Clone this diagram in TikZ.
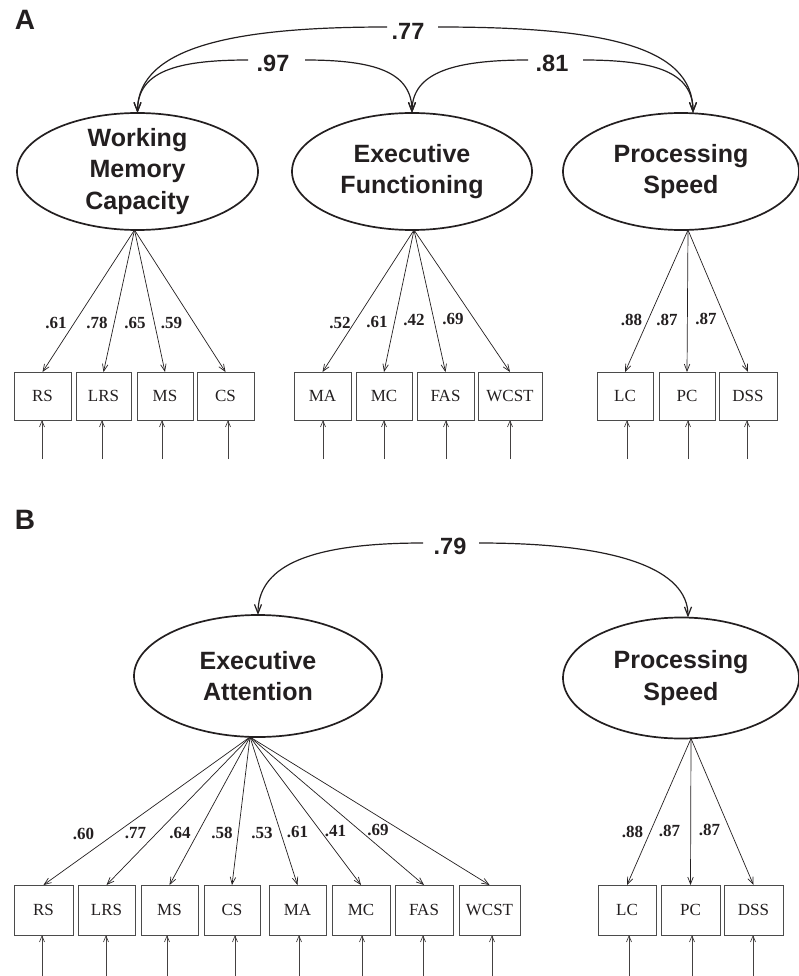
\documentclass[tikz,border=0pt]{standalone}
\usepackage{fontspec}
\setmainfont{Liberation Serif}
\newfontfamily\hel{Liberation Sans}
\usetikzlibrary{shapes.geometric,arrows.meta,calc}
\definecolor{ink}{RGB}{35,31,32}
\definecolor{boxc}{RGB}{75,75,75}
\begin{document}
\begin{tikzpicture}[x=1pt,y=-1pt,
  latent/.style={ellipse, draw=ink, line width=1.7pt, inner sep=-6pt, outer sep=0pt,
    align=center, text=ink, font=\hel\bfseries\fontsize{25}{31.5}\selectfont},
  obs/.style={rectangle, draw=boxc, line width=0.8pt, minimum height=48pt, inner sep=0pt,
    outer sep=0pt, text=ink, font=\fontsize{17}{19}\selectfont},
  loadlbl/.style={inner sep=0pt, text=ink, font=\bfseries\fontsize{17}{19}\selectfont},
  corrlbl/.style={inner sep=0pt, text=ink, font=\hel\bfseries\fontsize{23.5}{26}\selectfont},
  panel/.style={inner sep=0pt, text=ink, font=\hel\bfseries\fontsize{28}{30}\selectfont},
  arr/.style={draw=ink, line width=0.7pt, -{Straight Barb[length=7pt,width=5.5pt]}},
  errarr/.style={draw=ink!85, line width=0.7pt, -{Straight Barb[length=6pt,width=5pt]}},
  carr/.style={draw=ink, line width=1.2pt, -{Straight Barb[length=9pt,width=7pt]}}
]
\useasboundingbox (0,0) rectangle (799,976);
\clip (0,0) rectangle (799,976);

% ================= Panel A =================
\node[panel] (labA) at (25,20) {A};

\node[latent, minimum width=241pt, minimum height=117pt] (WMC) at (137.5,171.5) {Working\\Memory\\Capacity};
\node[latent, minimum width=240pt, minimum height=117pt] (EF) at (412,171.5) {Executive\\Functioning};
\node[latent, minimum width=236pt, minimum height=117pt] (PSA) at (681,171.5) {Processing\\Speed};

% correlation labels
\node[corrlbl] (l77) at (408,31) {.77};
\node[corrlbl] (l97) at (273,63) {.97};
\node[corrlbl] (l81) at (552,63) {.81};
\coordinate (l77L) at (387,27);
\coordinate (l77R) at (438,27);
\coordinate (l97L) at (248,60);
\coordinate (l97R) at (305,60);
\coordinate (l81L) at (528,60);
\coordinate (l81R) at (583,60);
\coordinate (tPSA) at ($(PSA.north)+(12,0)$);

\draw[carr] (l77L) .. controls (240,27) and (137.5,45) .. (WMC.north);
\draw[carr] (l77R) .. controls (600,27) and (693,45) .. (tPSA);
\draw[carr] (l97L) .. controls (175,60) and (137.5,72) .. (WMC.north);
\draw[carr] (l97R) .. controls (375,60) and (412,72) .. (EF.north);
\draw[carr] (l81L) .. controls (455,60) and (412,72) .. (EF.north);
\draw[carr] (l81R) .. controls (655,60) and (693,72) .. (tPSA);

% observed boxes
\foreach \n/\x/\w in {RS/42.5/57pt, LRS/103.5/55pt, MS/165/56pt, CS/225.5/57pt,
                      MA/322.5/57pt, MC/384/56pt, FAS/445.5/57pt, WCST/510/64pt,
                      LC/625/56pt, PC/687/56pt, DSS/748/58pt}{
  \node[obs, minimum width=\w] (a\n) at (\x,396) {\n};
}
% error arrows
\foreach \n/\x in {RS/42, LRS/102, MS/162, CS/228, MA/323, MC/384, FAS/446, WCST/510,
                   LC/627, PC/688, DSS/747}{
  \coordinate (ea\n) at (\x,459);
  \draw[errarr] (ea\n) -- (ea\n |- a\n.south);
}
% loadings
\coordinate (oWMC) at ($(WMC.south)+(-3,0)$);
\coordinate (oEF) at ($(EF.south)+(2,0)$);
\coordinate (oPSA) at ($(PSA.south)+(7,0)$);
\foreach \n in {RS,LRS,MS,CS} \draw[arr] (oWMC) -- (a\n.north);
\foreach \n in {MA,MC,FAS,WCST} \draw[arr] (oEF) -- (a\n.north);
\foreach \n in {LC,PC,DSS} \draw[arr] (oPSA) -- (a\n.north);

\foreach \i/\t/\x/\y in {1/.61/56/322.5, 2/.78/97/322.5, 3/.65/135/322.5, 4/.59/171.5/322.5,
                         5/.52/340/322.5, 6/.61/377/322, 7/.42/414/320, 8/.69/453/318.5,
                         9/.88/631.5/320, 10/.87/667/320, 11/.87/706/319}{
  \node[loadlbl] (la\i) at (\x,\y) {\t};
}

% ================= Panel B =================
\node[panel] (labB) at (25,520) {B};

\node[latent, minimum width=248pt, minimum height=122pt] (EA) at (258,676) {Executive\\Attention};
\node[latent, minimum width=236pt, minimum height=121pt] (PSB) at (681,678) {Processing\\Speed};

\node[corrlbl] (l79) at (450,546) {.79};
\coordinate (l79L) at (423,543);
\coordinate (l79R) at (479,543);
\coordinate (tPSB) at ($(PSB.north)+(7,0)$);
\draw[carr] (l79L) .. controls (300,543) and (258,570) .. (EA.north);
\draw[carr] (l79R) .. controls (620,543) and (688,570) .. (tPSB);

\foreach \n/\x/\w in {RS/43.5/59pt, LRS/106.5/57pt, MS/169.5/57pt, CS/232/56pt,
                      MA/297.5/57pt, MC/361/58pt, FAS/424/58pt, WCST/489.5/61pt,
                      LC/627/58pt, PC/690.5/59pt, DSS/753.5/59pt}{
  \node[obs, minimum width=\w, minimum height=50pt] (b\n) at (\x,910) {\n};
}
\foreach \n/\x in {RS/42, LRS/106, MS/167, CS/235, MA/299, MC/362, FAS/423, WCST/492,
                   LC/629, PC/692, DSS/753}{
  \coordinate (eb\n) at (\x,982);
  \draw[errarr] (eb\n) -- (eb\n |- b\n.south);
}
\coordinate (oEA) at ($(EA.south)+(-8,0)$);
\coordinate (oPSB) at ($(PSB.south)+(10,0)$);
\foreach \n in {RS,LRS,MS,CS,MA,MC,FAS,WCST} \draw[arr] (oEA) -- (b\n.north);
\foreach \n in {LC,PC,DSS} \draw[arr] (oPSB) -- (b\n.north);

\foreach \i/\t/\x/\y in {1/.60/83.5/834, 2/.77/135.5/833, 3/.64/180/832.5, 4/.58/222/832.5,
                         5/.53/262/832.5, 6/.61/297.5/832, 7/.41/335.5/831, 8/.69/378/830,
                         9/.88/632.5/831.5, 10/.87/669.5/830.5, 11/.87/709.5/829.5}{
  \node[loadlbl] (lb\i) at (\x,\y) {\t};
}
\end{tikzpicture}
\end{document}
